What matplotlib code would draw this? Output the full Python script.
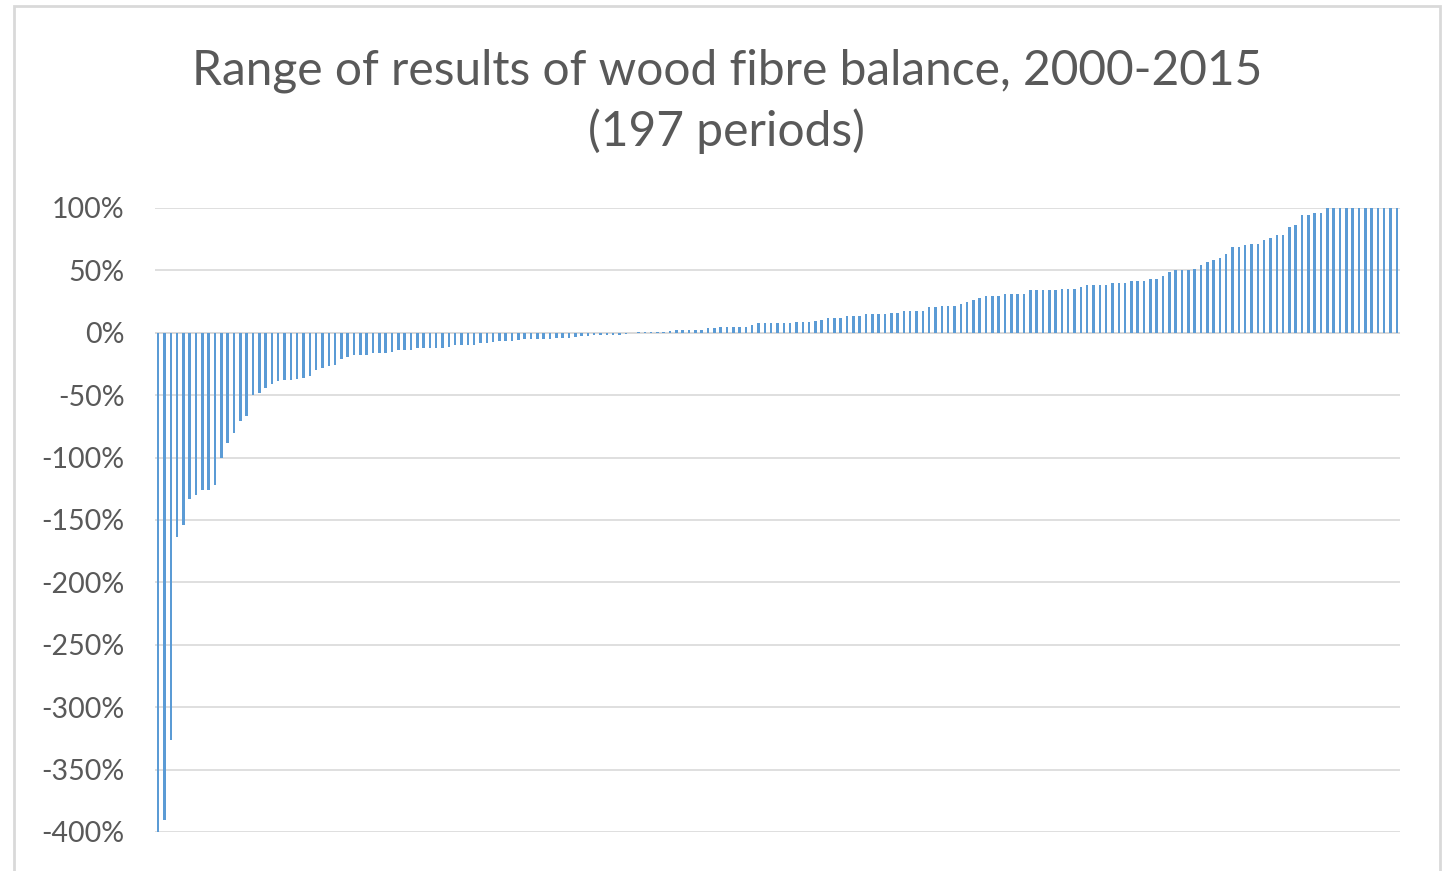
import matplotlib
matplotlib.use("Agg")
import matplotlib.pyplot as plt
from matplotlib.patches import Rectangle
from matplotlib.ticker import FuncFormatter

# wood fibre balance per period, sorted (percent)
neg_values = [
    -400, -390, -326, -164, -154, -133, -130, -126, -126, -122,
    -100, -88, -80, -71, -67, -50, -48, -44, -41, -38.5,
    -38, -37.5, -37, -36.5, -35, -29.5, -28, -26.5, -26, -21,
    -19.5, -18, -18, -17.5, -16.5, -16.5, -16, -15, -14, -14,
    -13.5, -12.5, -12.5, -12, -12, -12, -11.5, -10, -9.5, -9.5,
    -9.5, -8, -8, -7, -6.5, -6.5, -6.5, -5.5, -5, -5,
    -5, -5, -5, -4, -4, -4, -3.5, -2.2, -2.2, -2,
    -2, -1.8, -1.8, -1.5, -1.2, 0,
]
pos_values = [
    0.8, 1, 1, 1, 1, 1.2, 2, 2, 2, 2,
    2, 3.5, 3.5, 4.7, 4.7, 4.7, 4.8, 4.8, 6, 7.5,
    7.5, 7.5, 7.5, 7.5, 7.5, 9, 9, 9, 9.2, 10.4,
    11.7, 11.7, 11.7, 13.3, 13.3, 13.3, 14.7, 14.7, 14.7, 14.7,
    16, 16, 17.3, 17.3, 17.3, 17.3, 20.3, 20.3, 21.6, 21.6,
    21.6, 23, 24.3, 26, 28, 29.5, 29.5, 29.5, 31, 31,
    31, 31, 34, 34, 34, 34, 34, 35.2, 35.2, 35.2,
    36.8, 38.5, 38.5, 38.5, 38.5, 39.8, 39.8, 39.8, 41.2, 41.2,
    41.2, 42.8, 42.8, 45.8, 48.5, 50, 50, 50, 51.3, 54.2,
    57, 58.6, 60.2, 62.9, 68.6, 68.6, 70.2, 71.5, 71.5, 74.5,
    75.8, 78.7, 78.7, 84.4, 86, 94.6, 94.6, 96, 96, 100,
    100, 100, 100, 100, 100, 100, 100, 100, 100, 100,
    100,
]
values = neg_values + pos_values
periods = list(range(len(values)))

yticks = list(range(100, -401, -50))

plt.rcParams['font.family'] = ['Lato', 'DejaVu Sans']

fig = plt.figure(figsize=(14.45, 8.71), dpi=100)
fig.patches.append(Rectangle((14 / 1445, -0.01), 1426 / 1445, 1 - 6 / 871 + 0.01,
                             transform=fig.transFigure, fill=False,
                             edgecolor='#D9D9D9', linewidth=2))

ax = fig.add_axes([155 / 1445, 1 - 832 / 871, 1245 / 1445, 624 / 871])
ax.bar(periods, values, width=0.4, color='#5B9BD5', zorder=3)

ax.set_xlim(-0.5, len(values) - 0.5)
ax.set_ylim(-400, 100)
ax.set_yticks(yticks)
ax.yaxis.set_major_formatter(FuncFormatter(lambda v, p: f"{int(v)}%"))
ax.set_xticks([])
ax.tick_params(axis='y', length=0, labelsize=20.5, labelcolor='#595959', pad=22)
ax.grid(axis='y', color='#D9D9D9', linewidth=1.2, zorder=0)
for s in ax.spines.values():
    s.set_visible(False)
ax.axhline(0, color='#D9D9D9', linewidth=1.2, zorder=1)

fig.text(0.503, 1 - 101 / 871, "Range of results of wood fibre balance, 2000-2015\n(197 periods)",
         ha='center', va='center', fontsize=34.5, color='#595959', linespacing=1.4)

fig.savefig('out.png', dpi=100, facecolor='white')
